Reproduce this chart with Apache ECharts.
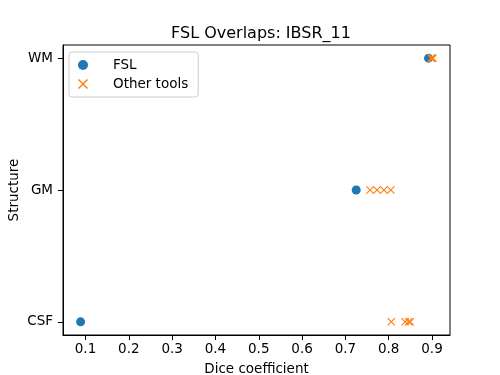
<!DOCTYPE html>
<html>
<head>
<meta charset="utf-8">
<script src="https://cdn.jsdelivr.net/npm/echarts@6/dist/echarts.min.js"></script>
<style>html,body{margin:0;padding:0;background:#fff}#c{width:500px;height:375px}</style>
</head>
<body>
<div id="c"></div>
<script>
var structures = ['CSF', 'GM', 'WM'];
var fslDice = [0.0886, 0.725, 0.892];
var otherCSF = [0.806, 0.838, 0.846, 0.850];
var otherGM = [0.757, 0.773, 0.789, 0.805];
var otherWM = [0.898, 0.900, 0.901, 0.902];
var xTicks = [0.1, 0.2, 0.3, 0.4, 0.5, 0.6, 0.7, 0.8, 0.9];

var fslData = fslDice.map(function (v, i) { return [v, i]; });
var otherData = [];
[otherCSF, otherGM, otherWM].forEach(function (arr, i) {
  arr.forEach(function (v) { otherData.push([v, i]); });
});

var XPATH = 'path://M1,0 L5,4 L9,0 L10,1 L6,5 L10,9 L9,10 L5,6 L1,10 L0,9 L4,5 L0,1 Z';
var font = 'DejaVu Sans';
var chart = echarts.init(document.getElementById('c'));
chart.setOption({
  animation: false,
  textStyle: { fontFamily: font },
  title: {
    text: 'FSL Overlaps: IBSR_11',
    left: 256, top: 21, textAlign: 'center',
    textStyle: { fontFamily: font, fontSize: 16, fontWeight: 'normal', color: '#000' }
  },
  grid: { left: 63, right: 50, top: 45, bottom: 40, outerBoundsMode: 'none', containLabel: false,
    show: true, borderColor: '#000', borderWidth: 1, backgroundColor: 'transparent' },
  legend: {
    left: 69, top: 52, orient: 'vertical',
    padding: [6, 10, 6, 9], itemGap: 5,
    itemWidth: 10, itemHeight: 10,
    borderColor: '#cccccc', borderWidth: 1, borderRadius: 3, backgroundColor: '#fff',
    textStyle: { fontFamily: font, fontSize: 13.5, color: '#000', padding: [0, 0, 0, 20] },
    data: [{ name: 'FSL', icon: 'circle' }, { name: 'Other tools', icon: XPATH }]
  },
  xAxis: {
    type: 'value', min: 0.048, max: 0.9416,
    name: 'Dice coefficient', nameLocation: 'middle', nameGap: 27, nameMoveOverlap: false,
    nameTextStyle: { fontFamily: font, fontSize: 13.5, color: '#000' },
    splitLine: { show: false },
    axisLine: { show: true, onZero: false, lineStyle: { color: '#000' } },
    axisTick: { show: true, inside: false, length: 5, customValues: xTicks, lineStyle: { color: '#000' } },
    axisLabel: { customValues: xTicks, fontFamily: font, fontSize: 13.5, color: '#000', margin: 7,
      formatter: function (v) { return v.toFixed(1); } }
  },
  yAxis: {
    type: 'value', min: -0.1, max: 2.1,
    name: 'Structure', nameLocation: 'middle', nameGap: 42, nameMoveOverlap: false,
    nameTextStyle: { fontFamily: font, fontSize: 13.5, color: '#000' },
    splitLine: { show: false },
    axisLine: { show: true, onZero: false, lineStyle: { color: '#000' } },
    axisTick: { show: true, inside: false, length: 5, customValues: [0, 1, 2], lineStyle: { color: '#000' } },
    axisLabel: { customValues: [0, 1, 2], fontFamily: font, fontSize: 13.5, color: '#000', margin: 10,
      formatter: function (v) { return structures[Math.round(v)]; } }
  },
  series: [
    { name: 'FSL', type: 'scatter', symbol: 'circle', symbolSize: 9,
      itemStyle: { color: '#1f77b4', opacity: 1 }, data: fslData, z: 2 },
    { name: 'Other tools', type: 'scatter', symbol: XPATH, symbolSize: 8,
      itemStyle: { color: '#ff7f0e', opacity: 1 }, data: otherData, z: 3 }
  ]
});
</script>
</body>
</html>
